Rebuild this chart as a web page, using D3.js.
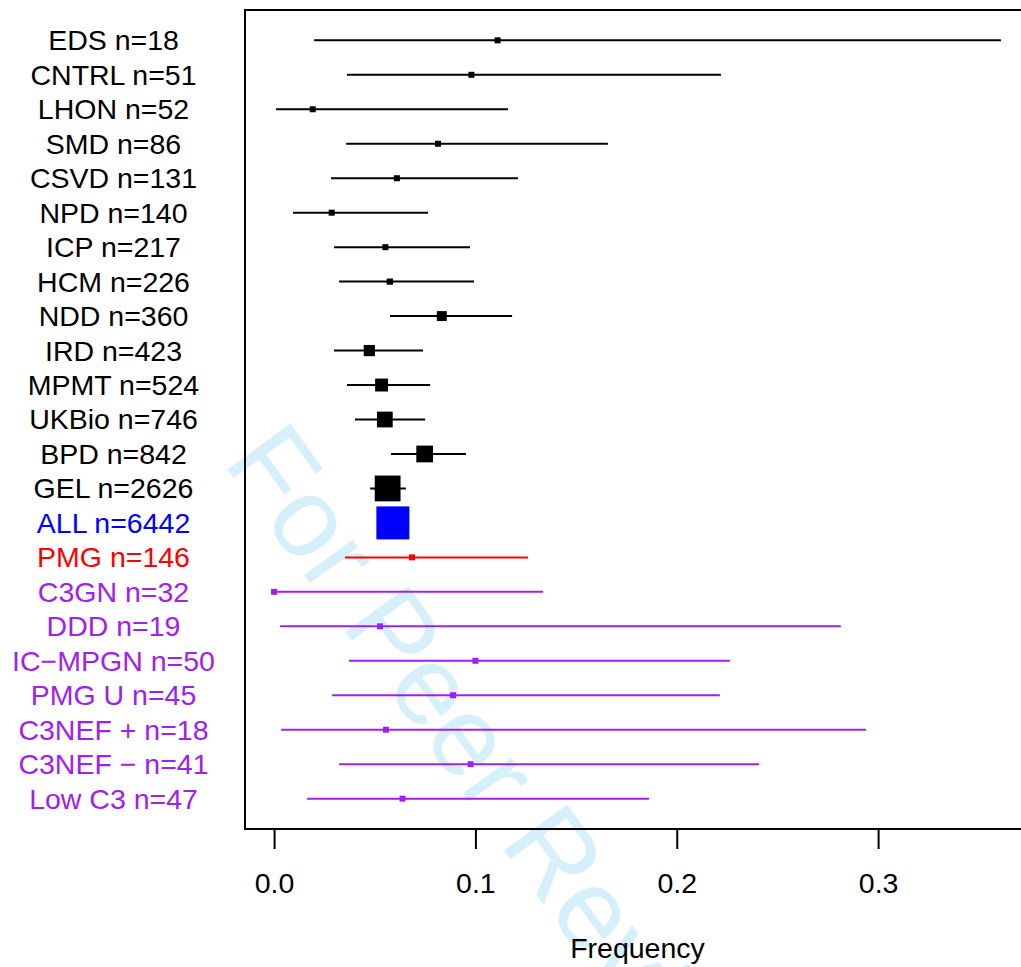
<!DOCTYPE html>
<html>
<head>
<meta charset="utf-8">
<script src="https://cdn.jsdelivr.net/npm/d3@7"></script>
<style>
  body { margin: 0; background: #fff; }
  svg { display: block; font-family: "Liberation Sans", Arial, Helvetica, sans-serif; }
</style>
</head>
<body>
<svg id="chart"></svg>
<script>
// cohorts, top to bottom
const cohorts = ["EDS", "CNTRL", "LHON", "SMD", "CSVD", "NPD", "ICP", "HCM", "NDD", "IRD",
  "MPMT", "UKBio", "BPD", "GEL", "ALL", "PMG", "C3GN", "DDD", "IC\u2212MPGN", "PMG U",
  "C3NEF +", "C3NEF \u2212", "Low C3"];
const sizes = [18, 51, 52, 86, 131, 140, 217, 226, 360, 423,
  524, 746, 842, 2626, 6442, 146, 32, 19, 50, 45,
  18, 41, 47];
const frequency = [0.111, 0.098, 0.0192, 0.0814, 0.061, 0.0286, 0.0553, 0.0575, 0.0833, 0.0473,
  0.0534, 0.055, 0.0748, 0.0564, 0.059, 0.0685, 0, 0.0526, 0.1, 0.0889,
  0.0556, 0.0976, 0.0638];
const lower = [0.0199, 0.0362, 0.001, 0.0358, 0.0283, 0.0094, 0.0298, 0.0323, 0.0576, 0.0298,
  0.0362, 0.0402, 0.0581, 0.0477, 0.0532, 0.0352, 0, 0.003, 0.0372, 0.0288,
  0.0035, 0.0323, 0.0164];
const upper = [0.361, 0.222, 0.1162, 0.1658, 0.1211, 0.0765, 0.0973, 0.0993, 0.1182, 0.074,
  0.0775, 0.075, 0.0953, 0.0655, 0.0649, 0.1261, 0.1336, 0.2815, 0.2264, 0.2214,
  0.294, 0.2408, 0.1862];
const groups = ["study", "study", "study", "study", "study", "study", "study", "study", "study", "study",
  "study", "study", "study", "study", "all", "pmg", "sub", "sub", "sub", "sub",
  "sub", "sub", "sub"];
const xTicks = [0, 0.1, 0.2, 0.3];

const W = 1021, H = 967;
const plot = { left: 245, right: 1030, top: 10, bottom: 829 };
const colour = { study: "#000000", all: "#0000ff", pmg: "#ff0000", sub: "#a020f0" };
const fontSize = 28.5;

const rows = cohorts.map((c, i) => ({
  name: c, n: sizes[i], est: frequency[i], lo: lower[i], hi: upper[i], group: groups[i]
}));

const svg = d3.select("#chart").attr("width", W).attr("height", H);
svg.append("rect").attr("width", W).attr("height", H).attr("fill", "#fff");

// background watermark
svg.append("text")
  .attr("transform", "translate(222,462) rotate(54)")
  .attr("font-size", 113)
  .attr("fill", "#d5effb")
  .text("For Peer Review");

// data range padded by 4% on each side
const xMin = d3.min(lower), xMax = d3.max(upper);
const pad = (xMax - xMin) * 0.04;
const x = d3.scaleLinear().domain([xMin - pad, xMax + pad]).range([plot.left, plot.right]);

const yPad = (cohorts.length - 1) * 0.04;
const yIdx = d3.scaleLinear().domain([-yPad, cohorts.length - 1 + yPad]).range([plot.top, plot.bottom]);
const y = (d, i) => yIdx(i);

const box = d3.scaleLog().domain([220, 6442]).range([6, 33]).clamp(true);

const g = svg.append("g");

g.selectAll("line.ci")
  .data(rows)
  .join("line")
  .attr("class", "ci")
  .attr("x1", d => x(d.lo))
  .attr("x2", d => x(d.hi))
  .attr("y1", y)
  .attr("y2", y)
  .attr("stroke", d => colour[d.group])
  .attr("stroke-width", 2);

g.selectAll("rect.est")
  .data(rows)
  .join("rect")
  .attr("class", "est")
  .attr("x", d => x(d.est) - box(d.n) / 2)
  .attr("y", (d, i) => y(d, i) - box(d.n) / 2)
  .attr("width", d => box(d.n))
  .attr("height", d => box(d.n))
  .attr("fill", d => colour[d.group]);

// cohort labels
svg.append("g")
  .selectAll("text")
  .data(rows)
  .join("text")
  .attr("x", 113.5)
  .attr("y", y)
  .attr("dy", "0.35em")
  .attr("text-anchor", "middle")
  .attr("font-size", fontSize)
  .attr("fill", d => colour[d.group])
  .text(d => d.name + " n=" + d.n);

// frame
svg.append("rect")
  .attr("x", plot.left)
  .attr("y", plot.top)
  .attr("width", plot.right - plot.left)
  .attr("height", plot.bottom - plot.top)
  .attr("fill", "none")
  .attr("stroke", "#000")
  .attr("stroke-width", 2);

// x axis
const xAxis = d3.axisBottom(x)
  .tickValues(xTicks)
  .tickFormat(d3.format(".1f"))
  .tickSize(20)
  .tickPadding(24);

const ax = svg.append("g")
  .attr("transform", `translate(0,${plot.bottom})`)
  .call(xAxis);
ax.select(".domain").remove();
ax.selectAll(".tick line").attr("stroke", "#000").attr("stroke-width", 2);
ax.selectAll(".tick text")
  .attr("font-size", fontSize)
  .attr("font-family", "Liberation Sans, Arial, sans-serif")
  .attr("fill", "#000");

svg.append("text")
  .attr("x", (plot.left + plot.right) / 2)
  .attr("y", 958)
  .attr("text-anchor", "middle")
  .attr("font-size", fontSize)
  .text("Frequency");
</script>
</body>
</html>
